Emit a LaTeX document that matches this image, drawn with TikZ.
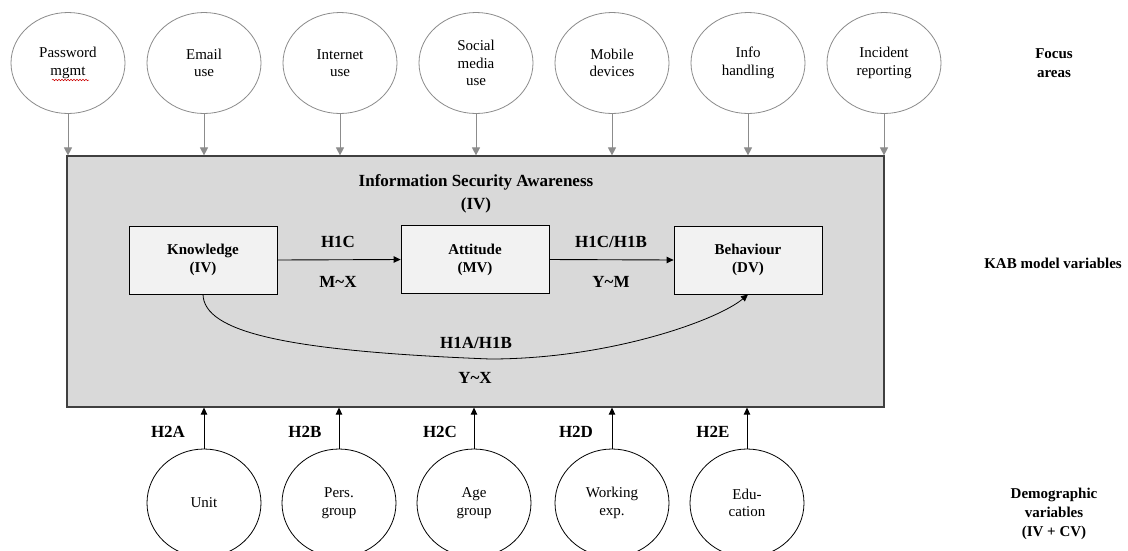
\documentclass[tikz,border=0pt]{standalone}
\usepackage{fontspec}
\setmainfont{Liberation Serif}
\usetikzlibrary{shapes.geometric,arrows.meta,decorations.pathmorphing}

\definecolor{panel}{HTML}{D9D9D9}
\definecolor{boxfill}{HTML}{F2F2F2}
\definecolor{edgegray}{HTML}{8C8C8C}
\definecolor{frame}{HTML}{404040}

\tikzset{
  focus/.style={ellipse, draw=edgegray, line width=0.8pt, fill=white,
    minimum width=114pt, minimum height=101pt, inner sep=0pt, align=center,
    font=\fontsize{15}{17.5}\selectfont},
  demo/.style={ellipse, draw=black, line width=0.8pt, fill=white,
    minimum width=114pt, minimum height=108pt, inner sep=0pt, align=center,
    font=\fontsize{15}{17.5}\selectfont},
  kab/.style={rectangle, draw=black, line width=0.8pt, fill=boxfill,
    minimum width=148pt, minimum height=68pt, inner sep=0pt, align=center,
    font=\bfseries\fontsize{15}{18}\selectfont},
  hyp/.style={font=\bfseries\fontsize{17}{20}\selectfont, inner sep=0pt},
  side/.style={align=center, inner sep=0pt, font=\bfseries\fontsize{15}{19}\selectfont},
  grayarrow/.style={draw=edgegray, line width=1pt, -{Triangle[length=8pt,width=8pt]}},
  blackarrow/.style={draw=black, line width=0.9pt, -{Triangle[length=7pt,width=6.5pt]}},
}

\begin{document}
\begin{tikzpicture}[x=1pt, y=-1pt]
  \clip (0,0) rectangle (1128,550);
  \fill[white] (0,0) rectangle (1128,550);

  % central panel
  \node[rectangle, draw=frame, line width=1.2pt, fill=panel,
        minimum width=817pt, minimum height=251pt, inner sep=0pt]
        (isa) at (475.5,281.5) {};
  \node[align=center, inner sep=0pt, font=\bfseries\fontsize{17}{23}\selectfont]
        (isatitle) at (476,194) {Information Security Awareness\\(IV)};

  % focus areas
  \node[focus] (f1) at (68,63)  {Password\\mgmt};
  \node[focus] (f2) at (204,63) {Email\\use};
  \node[focus] (f3) at (340,63) {Internet\\use};
  \node[focus] (f4) at (476,63) {Social\\media\\use};
  \node[focus] (f5) at (612,63) {Mobile\\devices};
  \node[focus] (f6) at (748,63) {Info\\handling};
  \node[focus] (f7) at (884,63) {Incident\\reporting};
  \foreach \f in {f1,f2,f3,f4,f5,f6,f7}
    \draw[grayarrow] (\f.south) -- (\f.south |- isa.north);

  % spell-check underline under "mgmt"
  \coordinate (sqa) at (52,80);
  \coordinate (sqb) at (89,80);
  \draw[red!80!black, line width=0.5pt,
        decorate, decoration={snake, amplitude=0.8pt, segment length=3pt}] (sqa) -- (sqb);

  % KAB boxes
  \node[kab] (kn) at (203,260)   {Knowledge\\(IV)};
  \node[kab] (at) at (475,259.5) {Attitude\\(MV)};
  \node[kab] (bh) at (748,260)   {Behaviour\\(DV)};

  \draw[blackarrow] (kn.east) -- (at.west);
  \draw[blackarrow] (at.east) -- (bh.west);
  \node[hyp] (l1a) at (338,242) {H1C};
  \node[hyp] (l1b) at (338,282) {M\char`~X};
  \node[hyp] (l2a) at (611,242) {H1C/H1B};
  \node[hyp] (l2b) at (611,282) {Y\char`~M};

  \coordinate (kbot) at (kn.south);
  \coordinate (low) at (490,359);
  \draw[blackarrow, line width=0.8pt] (kbot) .. controls (204,332) and (285,351) .. (low)
        .. controls (610,359) and (718,320) .. (bh.south);
  \node[hyp] (l3a) at (476,343) {H1A/H1B};
  \node[hyp] (l3b) at (475,378) {Y\char`~X};

  % demographic variables
  \node[demo] (d1) at (204,503) {Unit};
  \node[demo] (d2) at (339,503) {Pers.\\group};
  \node[demo] (d3) at (474,503) {Age\\group};
  \node[demo] (d4) at (612,503) {Working\\exp.};
  \node[demo] (d5) at (747,503) {Edu-\\cation};
  \foreach \d in {d1,d2,d3,d4,d5}
    \draw[blackarrow] (\d.north) -- (\d.north |- isa.south);
  \node[hyp] (h2a) at (168,432) {H2A};
  \node[hyp] (h2b) at (305,432) {H2B};
  \node[hyp] (h2c) at (440,432) {H2C};
  \node[hyp] (h2d) at (576,432) {H2D};
  \node[hyp] (h2e) at (713,432) {H2E};

  % side captions
  \node[side] (capf) at (1054,63)  {Focus\\areas};
  \node[side] (capk) at (1053,263) {KAB model variables};
  \node[side] (capd) at (1054,514) {Demographic\\variables\\(IV + CV)};
\end{tikzpicture}
\end{document}
